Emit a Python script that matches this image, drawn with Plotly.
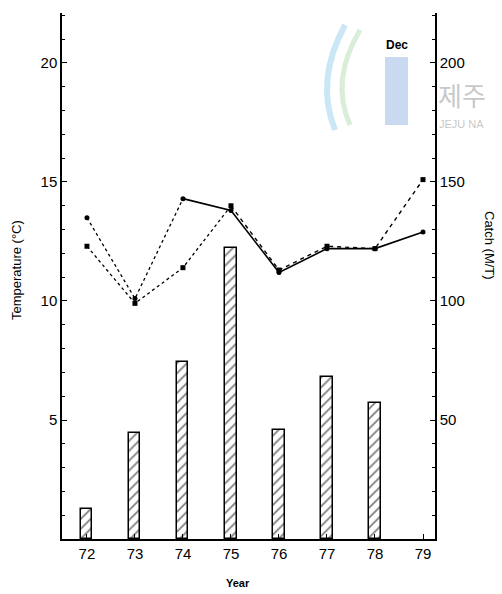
import plotly.graph_objects as go

# ---------------- data ----------------
years = [72, 73, 74, 75, 76, 77, 78, 79]
year_labels = ["72", "73", "74", "75", "76", "77", "78", "79"]
bar_years = [72, 73, 74, 75, 76, 77, 78]
catch_mt = [12.6, 44.5, 74.4, 122.3, 45.8, 68.1, 57.1]
temp_a = [13.5, 10.1, 14.3, 13.8, 11.2, 12.2, 12.2, 12.9]
temp_b = [12.3, 9.9, 11.4, 14.0, 11.3, 12.3, 12.2, 15.1]
temp_ticks = [5, 10, 15, 20]
catch_ticks = [50, 100, 150, 200]

# ---------------- geometry helpers ----------------
W, H = 502, 594
L, R, T, B = 62, 435, 13, 539


def px(x):
    return (x - L) / (R - L)


def py(y):
    return (B - y) / (B - T)


FONT = "Liberation Sans, Arial, sans-serif"

fig = go.Figure()

fig.add_trace(go.Bar(
    x=bar_years, y=catch_mt, yaxis="y2", width=0.23,
    marker=dict(color="white", line=dict(color="black", width=1.5),
                pattern=dict(shape="/", fgcolor="black", bgcolor="white",
                             size=7, solidity=0.25)),
    showlegend=False,
))

# series A: dotted first part, solid afterwards
fig.add_trace(go.Scatter(
    x=years[:3], y=temp_a[:3], mode="lines",
    line=dict(color="black", width=1.3, dash="dot"), showlegend=False))
fig.add_trace(go.Scatter(
    x=years[2:], y=temp_a[2:], mode="lines",
    line=dict(color="black", width=1.6), showlegend=False))
fig.add_trace(go.Scatter(
    x=years, y=temp_a, mode="markers",
    marker=dict(color="black", size=5, symbol="circle"), showlegend=False))

# series B: dotted first part, dashed afterwards
fig.add_trace(go.Scatter(
    x=years[:4], y=temp_b[:4], mode="lines",
    line=dict(color="black", width=1.3, dash="dot"), showlegend=False))
fig.add_trace(go.Scatter(
    x=years[3:], y=temp_b[3:], mode="lines",
    line=dict(color="black", width=1.4, dash="4px,4px"), showlegend=False))
fig.add_trace(go.Scatter(
    x=years, y=temp_b, mode="markers",
    marker=dict(color="black", size=5, symbol="square"), showlegend=False))

fig.update_layout(
    width=W, height=H,
    margin=dict(l=L, r=W - R, t=T, b=H - B),
    paper_bgcolor="white", plot_bgcolor="white",
    font=dict(family=FONT, color="black", size=15),
    bargap=0,
    xaxis=dict(
        range=[71.48, 79.25], tickvals=years, ticktext=year_labels,
        ticks="inside", ticklen=5, tickcolor="black", tickwidth=1.2,
        showline=True, linecolor="black", linewidth=1.5,
        showgrid=False, zeroline=False, tickfont=dict(size=15),
    ),
    yaxis=dict(
        range=[0, 22.1], tickvals=temp_ticks,
        ticks="inside", ticklen=5, tickcolor="black", tickwidth=1.2,
        minor=dict(dtick=1, ticks="inside", ticklen=3, tickcolor="black"),
        showline=True, linecolor="black", linewidth=1.5,
        showgrid=False, zeroline=False, tickfont=dict(size=15),
    ),
    yaxis2=dict(
        range=[0, 221], tickvals=catch_ticks, overlaying="y", side="right",
        ticks="inside", ticklen=5, tickcolor="black", tickwidth=1.2,
        minor=dict(dtick=10, ticks="inside", ticklen=3, tickcolor="black"),
        showline=True, linecolor="black", linewidth=1.5,
        showgrid=False, zeroline=False, tickfont=dict(size=15),
    ),
)

# faint watermark (logo + text)
shapes = [
    dict(type="rect", xref="paper", yref="paper", layer="below",
         x0=px(385), x1=px(408), y0=py(125), y1=py(57),
         fillcolor="rgba(120,160,215,0.40)", line=dict(width=0)),
    dict(type="path", xref="paper", yref="paper", layer="below",
         path=f"M {px(345)},{py(25)} Q {px(315)},{py(80)} {px(335)},{py(130)}",
         line=dict(color="rgba(140,200,230,0.45)", width=6)),
    dict(type="path", xref="paper", yref="paper", layer="below",
         path=f"M {px(360)},{py(30)} Q {px(330)},{py(80)} {px(350)},{py(125)}",
         line=dict(color="rgba(170,215,170,0.45)", width=5)),
]
fig.update_layout(shapes=shapes)

annotations = [
    dict(text="제주", x=px(436), y=py(94), xanchor="left", yanchor="middle",
         font=dict(family="Noto Sans CJK KR", size=26, color="rgba(150,150,150,0.55)")),
    dict(text="JEJU NA", x=px(437), y=py(124), xanchor="left", yanchor="middle",
         font=dict(family=FONT, size=11, color="rgba(150,150,150,0.55)")),
    dict(text="Temperature (°C)", x=px(16), y=py(270), textangle=-90,
         xanchor="center", yanchor="middle", font=dict(size=13)),
    dict(text="Catch (M/T)", x=px(490), y=py(245), textangle=90,
         xanchor="center", yanchor="middle", font=dict(size=13)),
    dict(text="<b>Year</b>", x=px(238), y=py(583),
         xanchor="center", yanchor="middle", font=dict(size=11)),
    dict(text="<b>Dec</b>", x=px(397), y=py(45),
         xanchor="center", yanchor="middle", font=dict(size=12)),
]
for a in annotations:
    a.update(xref="paper", yref="paper", showarrow=False)
fig.update_layout(annotations=annotations)

fig.write_html("out.html")
